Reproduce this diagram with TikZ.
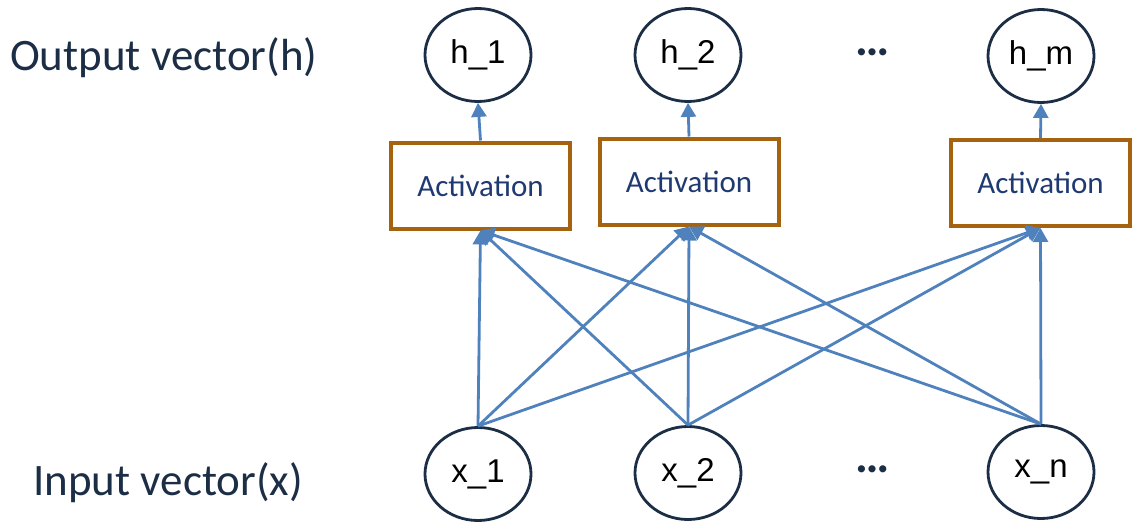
\documentclass[tikz,border=0pt]{standalone}
\usepackage{fontspec}
\setmainfont{Carlito}
\newfontfamily\nodefont{Liberation Sans}
\usetikzlibrary{shapes.geometric,arrows.meta}

\definecolor{navy}{HTML}{1B2E45}
\definecolor{actblue}{HTML}{1F3A72}
\definecolor{boxbrown}{HTML}{A5620F}
\definecolor{linkblue}{HTML}{4F81BD}

\tikzset{
  unit/.style={ellipse, draw=navy, line width=2.8pt, fill=white,
    minimum width=106pt, minimum height=93pt, inner sep=0pt,
    font=\nodefont\fontsize{33}{33}\selectfont, text=black},
  actbox/.style={rectangle, draw=boxbrown, line width=4pt, fill=white,
    minimum width=179pt, minimum height=86pt, inner sep=0pt,
    font=\fontsize{31}{31}\selectfont, text=actblue},
  layerlabel/.style={anchor=base west, inner sep=0pt,
    font=\fontsize{45}{45}\selectfont, text=navy},
  ellip/.style={inner sep=0pt, font=\bfseries\fontsize{48}{48}\selectfont, text=navy},
  link/.style={draw=linkblue, line width=2.8pt,
    -{Triangle[length=14pt,width=15pt]}},
}

\begin{document}
\begin{tikzpicture}[x=1pt,y=-1pt]
  \useasboundingbox (0,0) rectangle (1132,525);

  % layer labels
  \node[layerlabel] (outlbl) at (10,70) {Output vector(h)};
  \node[layerlabel] (inlbl) at (33,495) {Input vector(x)};

  % output units
  \node[unit] (h1) at (478,55) {h\_1};
  \node[unit] (h2) at (688,55) {h\_2};
  \node[unit] (hm) at (1041,56) {h\_m};
  \node[ellip] (hdots) at (873,52) {…};

  % activation boxes
  \node[actbox] (a1) at (480.5,185.5) {Activation};
  \node[actbox] (a2) at (689,181.5) {Activation};
  \node[actbox] (a3) at (1040.5,183) {Activation};

  % input units
  \node[unit] (x1) at (478,474) {x\_1};
  \node[unit] (x2) at (688,473) {x\_2};
  \node[unit] (xn) at (1041,472) {x\_n};
  \node[ellip] (xdots) at (873,469) {…};

  % activation to output
  \draw[link] (a1.north) -- (h1.south);
  \draw[link] (a2.north) -- (h2.south);
  \draw[link] (a3.north) -- (hm.south);

  % fully connected inputs
  \foreach \src in {x1,x2,xn}{
    \foreach \dst in {a1,a2,a3}{
      \draw[link] (\src.north) -- (\dst.south);
    }
  }
\end{tikzpicture}
\end{document}
